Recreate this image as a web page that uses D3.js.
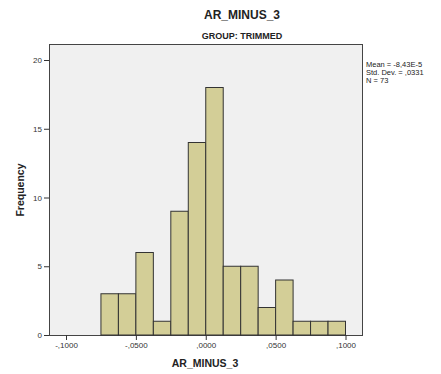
<!DOCTYPE html>
<html>
<head>
<meta charset="utf-8">
<script src="https://cdn.jsdelivr.net/npm/d3@7"></script>
<style>
  body { margin: 0; background: #fff; }
  text { font-family: "Liberation Sans", Arial, sans-serif; }
</style>
</head>
<body>
<svg id="chart" width="441" height="374"></svg>
<script>
// Data
const binStarts = [-0.075, -0.0625, -0.05, -0.0375, -0.025, -0.0125, 0.0, 0.0125, 0.025, 0.0375, 0.05, 0.0625, 0.075, 0.0875];
const binWidth = 0.0125;
const counts = [3, 3, 6, 1, 9, 14, 18, 5, 5, 2, 4, 1, 1, 1];
const xTicks = [-0.1, -0.05, 0, 0.05, 0.1];
const xTickLabels = ["-,1000", "-,0500", ",0000", ",0500", ",1000"];
const yTicks = [0, 5, 10, 15, 20];
const statsLines = ["Mean = -8,43E-5", "Std. Dev. = ,0331", "N = 73"];

const svg = d3.select("#chart");
const plot = { left: 49, right: 362, top: 44, bottom: 335 };

const x = d3.scaleLinear().domain([-0.1, 0.1]).range([66, 345.5]);
const y = d3.scaleLinear().domain([0, 20]).range([plot.bottom, 60]);

// Plot background
svg.append("rect")
  .attr("x", plot.left).attr("y", plot.top)
  .attr("width", plot.right - plot.left).attr("height", plot.bottom - plot.top)
  .attr("fill", "#f0f0f0").attr("stroke", "#444").attr("stroke-width", 1)
  .attr("shape-rendering", "crispEdges");

// Bars
svg.append("g").selectAll("rect").data(counts).join("rect")
  .attr("x", (d, i) => x(binStarts[i]))
  .attr("y", d => y(d))
  .attr("width", (d, i) => x(binStarts[i] + binWidth) - x(binStarts[i]))
  .attr("height", d => y(0) - y(d))
  .attr("fill", "#d3ce97")
  .attr("stroke", "#333")
  .attr("stroke-width", 1);

// Y axis
const yAxis = svg.append("g")
  .attr("transform", `translate(${plot.left},0)`)
  .call(d3.axisLeft(y).tickValues(yTicks).tickSize(5).tickPadding(2).tickFormat(d3.format("d")));
yAxis.select(".domain").remove();
yAxis.selectAll("line").attr("stroke", "#333");
yAxis.selectAll("text").attr("font-size", 8).attr("fill", "#333")
  .attr("font-family", "'Liberation Sans', Arial, sans-serif");

// X axis
const xAxis = svg.append("g")
  .attr("transform", `translate(0,${plot.bottom})`)
  .call(d3.axisBottom(x).tickValues(xTicks).tickSize(5).tickPadding(2)
    .tickFormat((d, i) => xTickLabels[i]));
xAxis.select(".domain").remove();
xAxis.selectAll("line").attr("stroke", "#333");
xAxis.selectAll("text").attr("font-size", 8).attr("fill", "#333")
  .attr("font-family", "'Liberation Sans', Arial, sans-serif");

// Titles
svg.append("text").attr("x", 242).attr("y", 19).attr("text-anchor", "middle")
  .attr("font-size", 12).attr("font-weight", "bold").attr("fill", "#222").text("AR_MINUS_3");
svg.append("text").attr("x", 242).attr("y", 39).attr("text-anchor", "middle")
  .attr("font-size", 9).attr("font-weight", "bold").attr("fill", "#222").text("GROUP: TRIMMED");

// Axis titles
svg.append("text").attr("x", 205).attr("y", 367).attr("text-anchor", "middle")
  .attr("font-size", 10.5).attr("font-weight", "bold").attr("fill", "#222").text("AR_MINUS_3");
svg.append("text").attr("transform", "translate(24,190) rotate(-90)").attr("text-anchor", "middle")
  .attr("font-size", 10.5).attr("font-weight", "bold").attr("fill", "#222").text("Frequency");

// Stats legend
svg.append("g").selectAll("text").data(statsLines).join("text")
  .attr("x", 366).attr("y", (d, i) => 67 + i * 8)
  .attr("font-size", 7.5).attr("fill", "#222").text(d => d);
</script>
</body>
</html>
